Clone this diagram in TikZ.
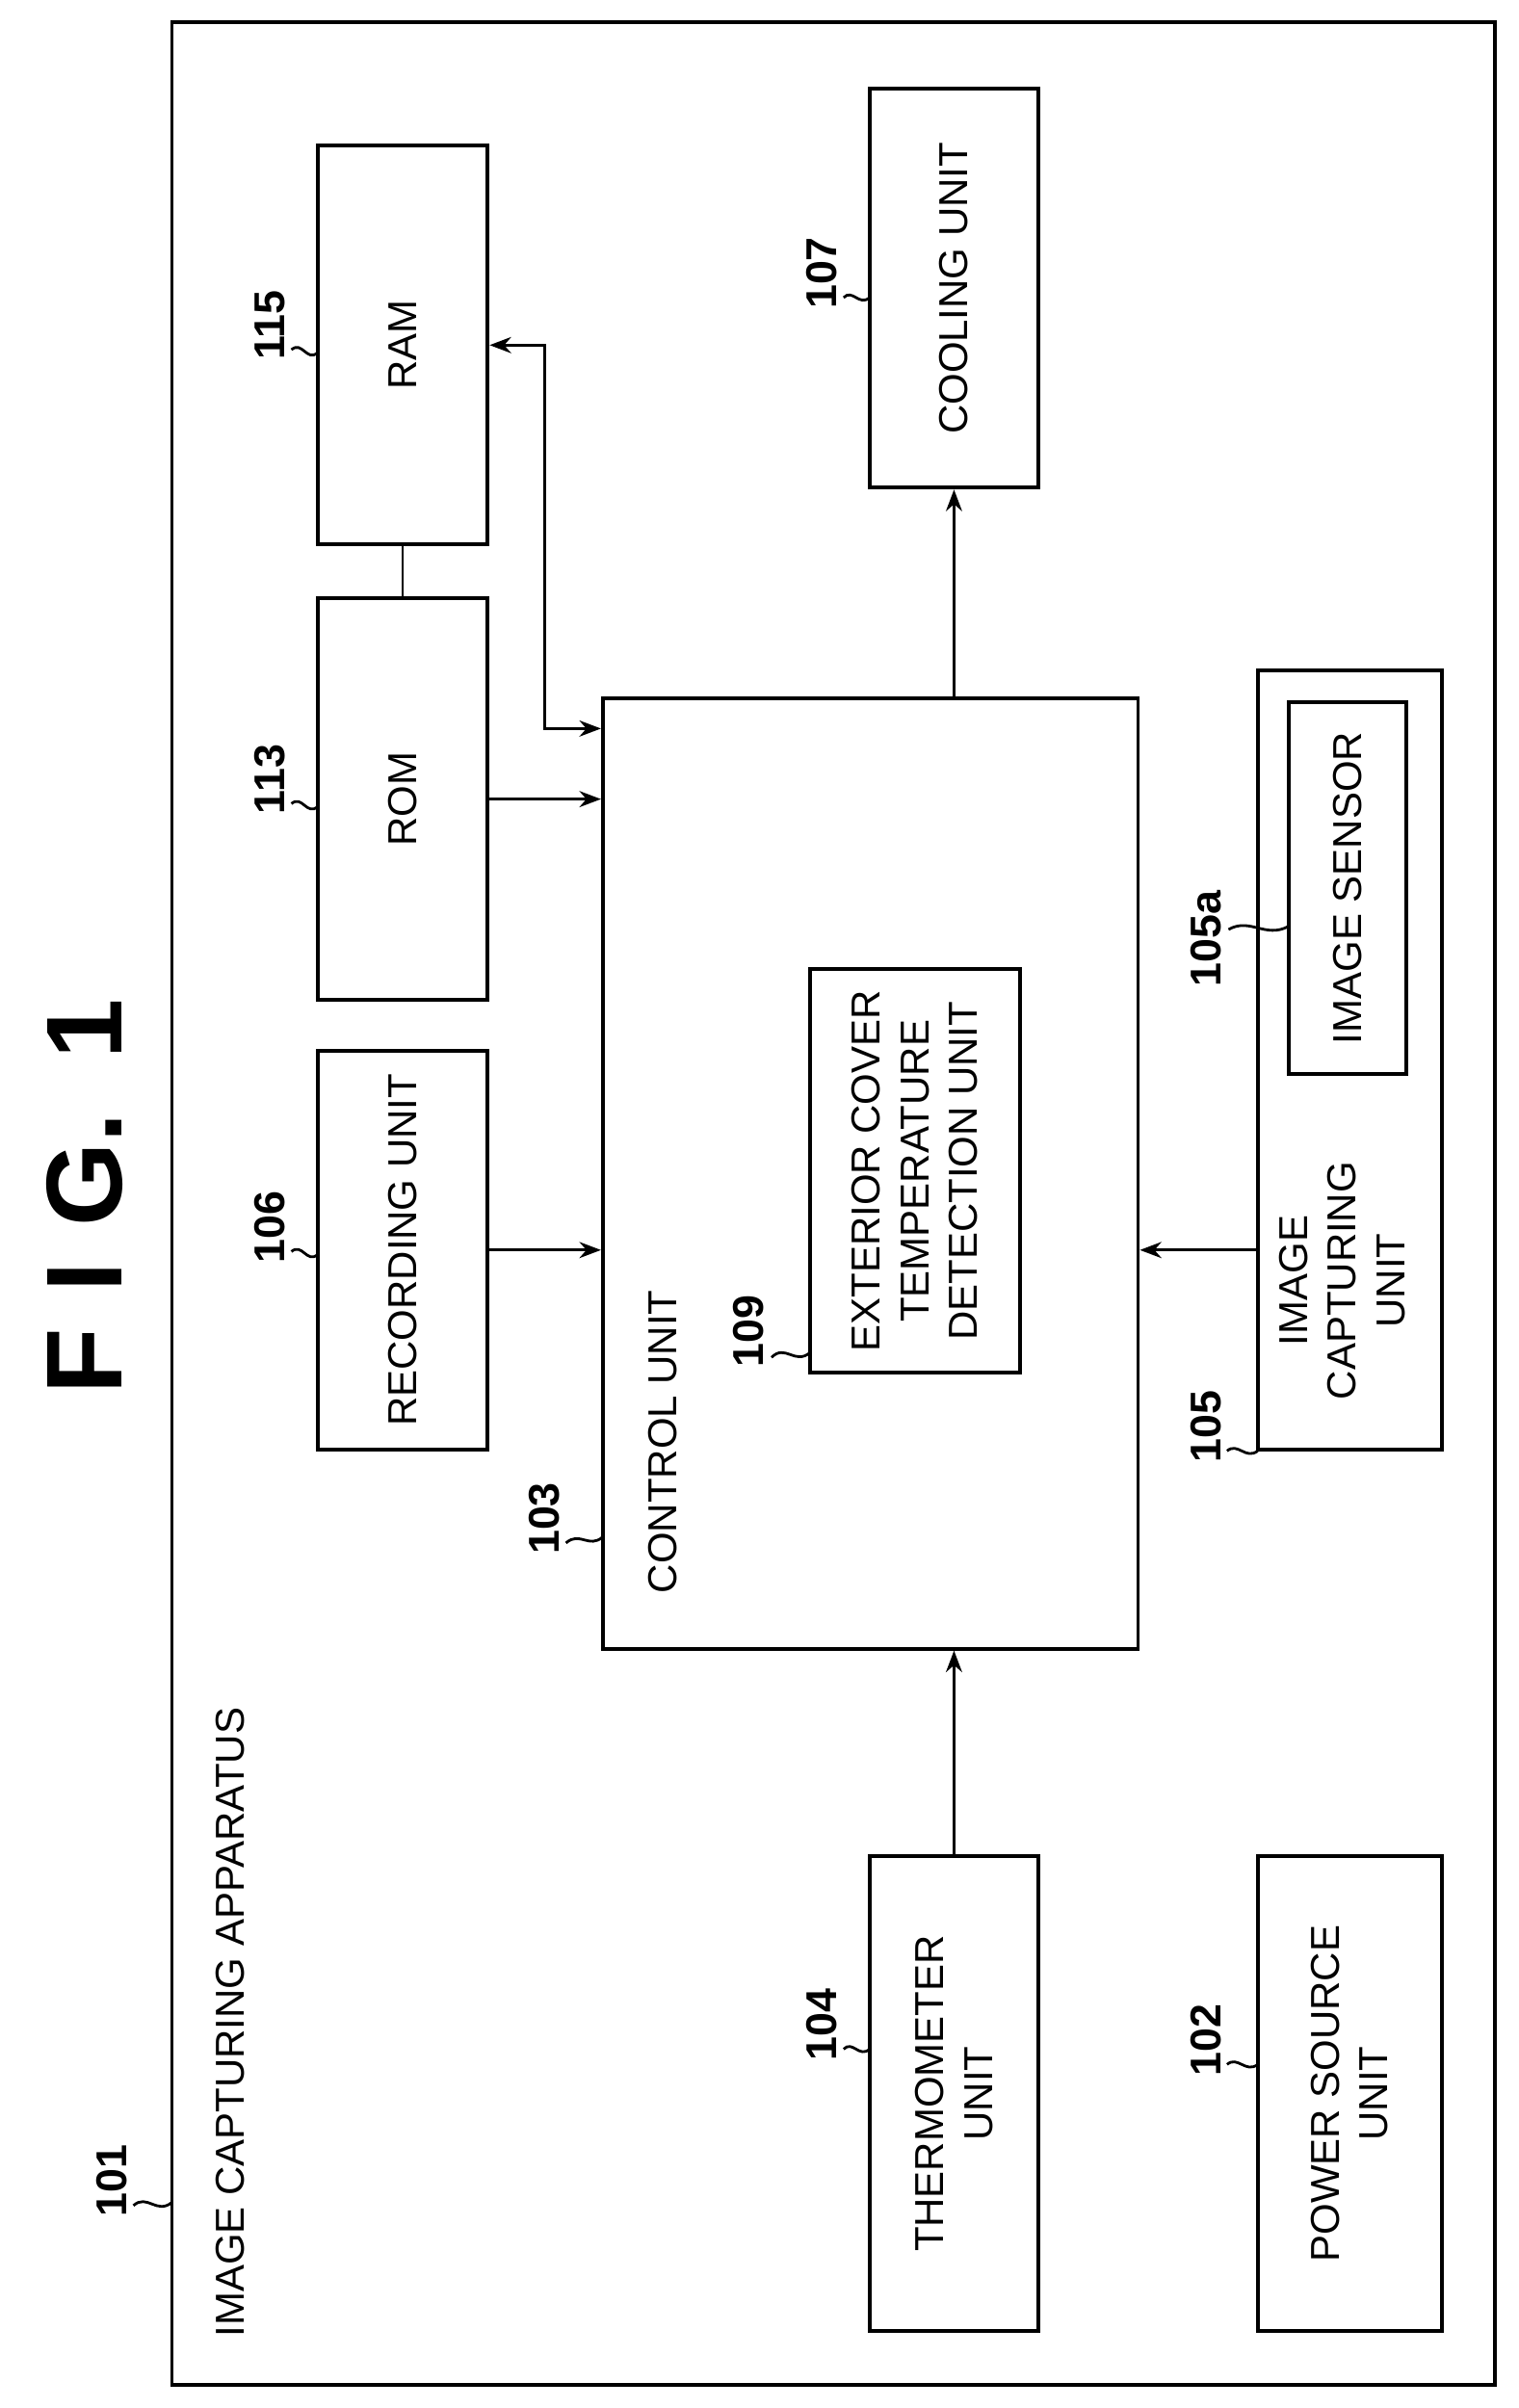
\documentclass[tikz,border=0pt]{standalone}
\usepackage{fontspec}
\setmainfont{Liberation Sans}
\usetikzlibrary{arrows.meta}
\begin{document}
\begin{tikzpicture}[x=0.02cm,y=-0.02cm,
  box/.style={draw,line width=1.4pt,inner sep=0pt},
  txt/.style={rotate=90,align=center,font=\fontsize{15}{18}\selectfont},
  num/.style={rotate=90,font=\bfseries\fontsize{16}{19}\selectfont},
  lead/.style={line width=1pt},
  arr/.style={line width=1pt,-{Stealth[length=8pt,width=6pt]}},
  darr/.style={line width=1pt,{Stealth[length=8pt,width=6pt]}-{Stealth[length=8pt,width=6pt]}}]
\useasboundingbox (0,0) rectangle (990,1570);
\node[box,minimum width=17.26cm,minimum height=30.82cm] (app) at (543.5,784.5) {};
\node[rotate=90,font=\bfseries\fontsize{40}{48}\selectfont] (fig) at (55,780) {F\,\,I\,\,G.\,\,\,1};
\node[box,minimum width=2.22cm,minimum height=5.2cm] (ram) at (262.5,225) {};
\node[box,minimum width=2.22cm,minimum height=5.24cm] (rom) at (262.5,521) {};
\node[box,minimum width=2.22cm,minimum height=5.2cm] (rec) at (262.5,815) {};
\node[box,minimum width=6.98cm,minimum height=12.4cm] (ctrl) at (567.5,765) {};
\node[box,minimum width=2.74cm,minimum height=5.26cm] (ext) at (596.5,763.5) {};
\node[box,minimum width=2.2cm,minimum height=5.2cm] (cool) at (622,188) {};
\node[box,minimum width=2.4cm,minimum height=10.16cm] (icu) at (880,691) {};
\node[box,minimum width=1.54cm,minimum height=4.84cm] (is) at (878.5,579) {};
\node[box,minimum width=2.2cm,minimum height=6.2cm] (therm) at (622,1365) {};
\node[box,minimum width=2.4cm,minimum height=6.2cm] (pow) at (880,1365) {};
% texts
\node[txt] (tram) at (262.5,225) {RAM};
\node[txt] (trom) at (262.5,521) {ROM};
\node[txt] (trec) at (262.5,815) {RECORDING UNIT};
\node[txt,anchor=west] (tctrl) at (432,1045) {CONTROL UNIT};
\node[txt] (text) at (596.5,763.5) {EXTERIOR COVER\\TEMPERATURE\\DETECTION UNIT};
\node[txt] (tcool) at (622,188) {COOLING UNIT};
\node[txt] (ticu) at (875,835) {IMAGE\\CAPTURING\\UNIT};
\node[txt] (tis) at (878.5,579) {IMAGE SENSOR};
\node[txt] (ttherm) at (622,1365) {THERMOMETER\\UNIT};
\node[txt] (tpow) at (880,1365) {POWER SOURCE\\UNIT};
\node[txt,anchor=west] (tapp) at (150,1530) {IMAGE CAPTURING APPARATUS};
% connectors
\draw[line width=1pt] (ram.south) -- (rom.north);
\coordinate (k1) at (355,225);
\coordinate (k2) at (355,475);
\draw[darr] (ram.east |- k1) -- (k1) -- (k2) -- (k2 -| ctrl.west);
\draw[arr] (rom.east) -- (rom.east -| ctrl.west);
\draw[arr] (rec.east) -- (rec.east -| ctrl.west);
\draw[arr] (icu.west |- rec.east) -- (ctrl.east |- rec.east);
\draw[arr] (cool.south |- ctrl.north) -- (cool.south);
\draw[arr] (therm.north) -- (therm.north |- ctrl.south);
% labels
\node[num] (l115) at (176,212) {115};
\draw[lead] (190,228) .. controls (197,222) and (200,236) .. (207,230);
\node[num] (l113) at (176,508) {113};
\draw[lead] (190,524) .. controls (197,518) and (200,532) .. (207,526);
\node[num] (l106) at (176,800) {106};
\draw[lead] (190,816) .. controls (197,810) and (200,824) .. (207,818);
\node[num] (l103) at (355,990) {103};
\draw[lead] (369,1006) .. controls (378,998) and (384,1010) .. (393,1002);
\node[num] (l109) at (488,868) {109};
\draw[lead] (503,885) .. controls (512,876) and (518,890) .. (528,882);
\node[num] (l107) at (536,178) {107};
\draw[lead] (550,194) .. controls (556,188) and (560,200) .. (567,194);
\node[num] (l105a) at (786,612) {105a};
\draw[lead] (801,606) .. controls (815,598) and (825,612) .. (840,604);
\node[num] (l105) at (786,930) {105};
\draw[lead] (800,946) .. controls (807,940) and (812,952) .. (820,946);
\node[num] (l104) at (536,1320) {104};
\draw[lead] (550,1336) .. controls (556,1330) and (560,1342) .. (567,1336);
\node[num] (l102) at (786,1330) {102};
\draw[lead] (800,1346) .. controls (807,1340) and (812,1352) .. (820,1346);
\node[num] (l101) at (73,1422) {101};
\draw[lead] (87,1438) .. controls (96,1430) and (102,1444) .. (112,1436);
\end{tikzpicture}
\end{document}
